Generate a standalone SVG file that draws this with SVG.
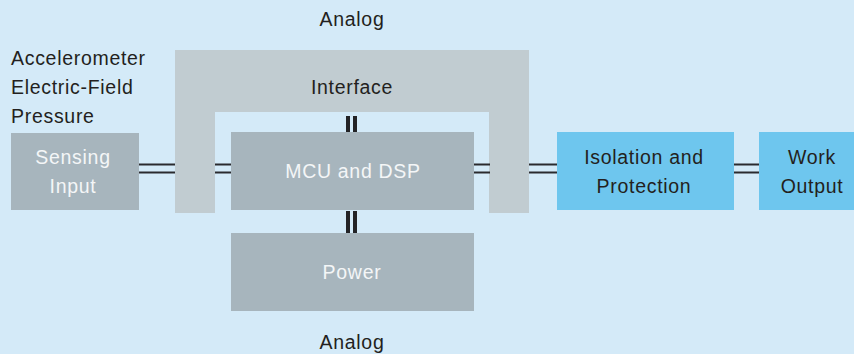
<svg xmlns="http://www.w3.org/2000/svg" width="854" height="354" viewBox="0 0 854 354">
<style>
text{font-family:"Liberation Sans",Arial,sans-serif;font-size:19.5px;letter-spacing:0.7px}
.d{fill:#231f20}
.w{fill:#f4f6f7}
.c{text-anchor:middle}
.g{fill:#a7b5bd}
.b{fill:#6ec6ee}
.ln{stroke:#2a2a2e;stroke-width:2.2;fill:none}
.vb{fill:#232326}
</style>
<rect width="854" height="354" fill="#d4eaf8"/>
<g id="interface">
<path d="M175,50H529V213H489V112H215V213H175Z" fill="#c1ccd1"/>
<text class="d c" x="352" y="94">Interface</text>
</g>
<g id="labels">
<text class="d c" x="352" y="26">Analog</text>
<text class="d c" x="352" y="349">Analog</text>
<text class="d" x="11" y="65">Accelerometer</text>
<text class="d" x="11" y="94">Electric-Field</text>
<text class="d" x="11" y="123">Pressure</text>
</g>
<g id="sensing">
<rect class="g" x="11" y="133" width="128" height="77"/>
<text class="w c" x="73" y="164">Sensing</text>
<text class="w c" x="73" y="193">Input</text>
</g>
<g id="mcu">
<rect class="g" x="231" y="132" width="243" height="78"/>
<text class="w c" x="353" y="178">MCU and DSP</text>
</g>
<g id="power">
<rect class="g" x="231" y="233" width="243" height="78"/>
<text class="w c" x="352" y="279">Power</text>
</g>
<g id="isolation">
<rect class="b" x="557" y="132" width="177" height="78"/>
<text class="d c" x="644" y="164">Isolation and</text>
<text class="d c" x="644" y="193">Protection</text>
</g>
<g id="work">
<rect class="b" x="759" y="132" width="95" height="78"/>
<text class="d c" x="812" y="164">Work</text>
<text class="d c" x="812" y="193">Output</text>
</g>
<g id="connectors">
<path class="ln" d="M139,164.5H175M139,172.5H175M215,164.5H231M215,172.5H231M474,164.5H490M474,172.5H490M529,164.5H557M529,172.5H557M734,164.5H759M734,172.5H759"/>
<rect class="vb" x="346" y="116" width="4" height="16"/>
<rect class="vb" x="353" y="116" width="4" height="16"/>
<rect class="vb" x="346" y="211" width="4" height="22"/>
<rect class="vb" x="353" y="211" width="4" height="22"/>
</g>
</svg>
